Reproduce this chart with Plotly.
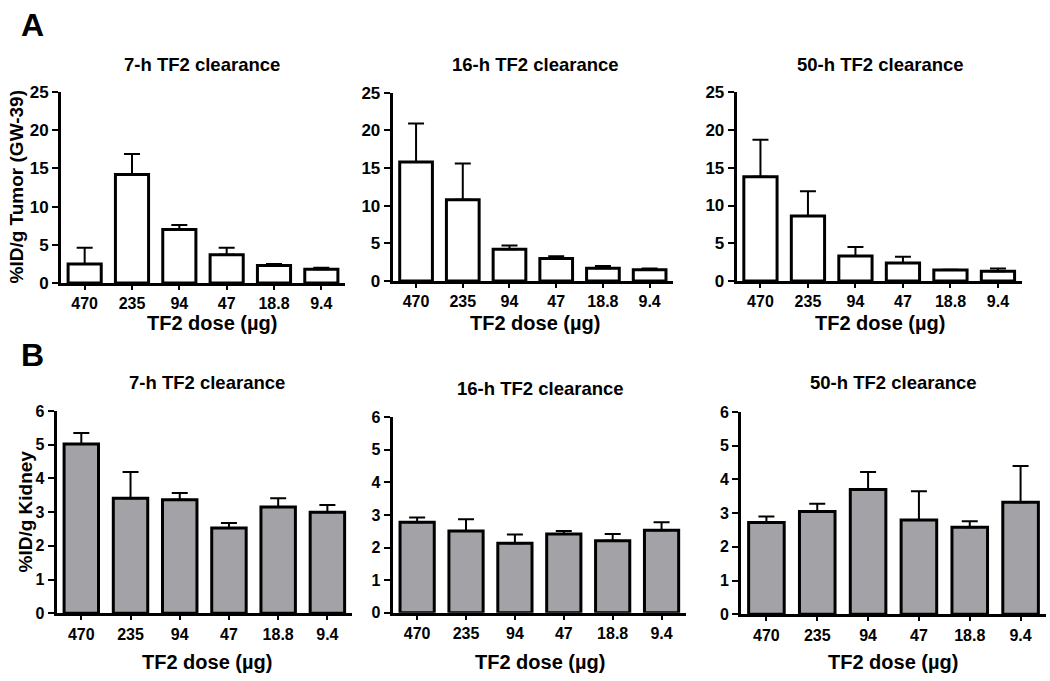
import plotly.graph_objects as go

W, H = 1050, 681

doses = ["470", "235", "94", "47", "18.8", "9.4"]

# Panel A: %ID/g tumor (GW-39)
tumor_7h = [2.5, 14.2, 7.0, 3.7, 2.3, 1.8]
tumor_7h_err = [2.1, 2.7, 0.6, 0.9, 0.2, 0.2]
tumor_16h = [15.8, 10.8, 4.2, 3.0, 1.7, 1.5]
tumor_16h_err = [5.1, 4.8, 0.5, 0.3, 0.3, 0.15]
tumor_50h = [13.8, 8.6, 3.3, 2.4, 1.45, 1.3]
tumor_50h_err = [4.9, 3.3, 1.2, 0.8, 0.05, 0.35]

# Panel B: %ID/g kidney
kidney_7h = [5.02, 3.41, 3.37, 2.53, 3.15, 3.0]
kidney_7h_err = [0.33, 0.78, 0.2, 0.15, 0.26, 0.21]
kidney_16h = [2.78, 2.51, 2.13, 2.42, 2.21, 2.53]
kidney_16h_err = [0.14, 0.36, 0.27, 0.09, 0.21, 0.25]
kidney_50h = [2.72, 3.05, 3.7, 2.8, 2.58, 3.32]
kidney_50h_err = [0.18, 0.23, 0.52, 0.85, 0.18, 1.08]

titles = ["7-h TF2 clearance", "16-h TF2 clearance", "50-h TF2 clearance"]

FONT = "Liberation Sans, Arial, sans-serif"

# panel geometry in pixels: (x0, x1, ytop, ybottom)
panels = [
    (61, 345, 92, 283),
    (392.7, 673, 92.7, 281),
    (736.7, 1021.7, 92.3, 281),
    (56.7, 352, 411, 613.3),
    (392.7, 686, 417.3, 612.7),
    (741, 1046, 412, 614.3),
]

series = [
    (tumor_7h, tumor_7h_err, "white", 25, 5),
    (tumor_16h, tumor_16h_err, "white", 25, 5),
    (tumor_50h, tumor_50h_err, "white", 25, 5),
    (kidney_7h, kidney_7h_err, "#a3a3a7", 6, 1),
    (kidney_16h, kidney_16h_err, "#a3a3a7", 6, 1),
    (kidney_50h, kidney_50h_err, "#a3a3a7", 6, 1),
]

fig = go.Figure()
layout = {}
for i, ((x0, x1, yt, yb), (vals, errs, fill, ymax, dtick)) in enumerate(zip(panels, series)):
    n = i + 1
    xa = "x" if n == 1 else f"x{n}"
    ya = "y" if n == 1 else f"y{n}"
    fig.add_trace(go.Bar(
        x=doses, y=vals, xaxis=xa, yaxis=ya, width=0.7,
        marker=dict(color=fill, line=dict(color="black", width=3)),
        error_y=dict(type="data", array=errs, arrayminus=[0] * len(errs),
                     symmetric=False, color="black", thickness=2, width=8),
        showlegend=False, hoverinfo="skip",
    ))
    ytickfont = dict(family=FONT, size=17 if i < 3 else 16, color="black", weight="bold")
    layout["xaxis" if n == 1 else f"xaxis{n}"] = dict(
        domain=[x0 / W, x1 / W], anchor=ya, type="category",
        range=[-0.5, 5.5], showline=True, linecolor="black", linewidth=3,
        ticks="outside", ticklen=4, tickwidth=2, tickcolor="black",
        showgrid=False, zeroline=False,
        tickfont=dict(family=FONT, size=16, color="black", weight="bold"),
        fixedrange=True,
    )
    layout["yaxis" if n == 1 else f"yaxis{n}"] = dict(
        domain=[1 - yb / H, 1 - yt / H], anchor=xa,
        range=[0, ymax], dtick=dtick, showline=True, linecolor="black", linewidth=3,
        ticks="outside", ticklen=6, tickwidth=2, tickcolor="black",
        showgrid=False, zeroline=False, tickfont=ytickfont, ticklabelstandoff=0,
        fixedrange=True,
    )

fig.update_layout(**layout)

ann = []
title_pos = [(202, 65), (535, 65), (880, 65), (207, 382), (540, 388), (893, 382)]
for i, (cx, cy) in enumerate(title_pos):
    ann.append(dict(text=titles[i % 3], x=cx / W, y=1 - cy / H, xref="paper", yref="paper",
                    showarrow=False, xanchor="center", yanchor="middle",
                    font=dict(family=FONT, size=18.5, color="black", weight="bold")))

xt_pos = [(212, 323), (535, 323), (880, 323), (207, 662), (540, 662), (893, 662)]
for (cx, cy) in xt_pos:
    ann.append(dict(text="TF2 dose (µg)", x=cx / W, y=1 - cy / H, xref="paper", yref="paper",
                    showarrow=False, xanchor="center", yanchor="middle",
                    font=dict(family=FONT, size=20, color="black", weight="bold")))

ann.append(dict(text="%ID/g Tumor (GW-39)", x=15.5 / W, y=1 - 187 / H, xref="paper", yref="paper",
                showarrow=False, textangle=-90, xanchor="center", yanchor="middle",
                font=dict(family=FONT, size=19, color="black", weight="bold")))
ann.append(dict(text="%ID/g Kidney", x=24.5 / W, y=1 - 512 / H, xref="paper", yref="paper",
                showarrow=False, textangle=-90, xanchor="center", yanchor="middle",
                font=dict(family=FONT, size=19, color="black", weight="bold")))

ann.append(dict(text="A", x=32 / W, y=1 - 25 / H, xref="paper", yref="paper",
                showarrow=False, xanchor="center", yanchor="middle",
                font=dict(family=FONT, size=32, color="black", weight="bold")))
ann.append(dict(text="B", x=32 / W, y=1 - 355 / H, xref="paper", yref="paper",
                showarrow=False, xanchor="center", yanchor="middle",
                font=dict(family=FONT, size=32, color="black", weight="bold")))

fig.update_layout(
    width=W, height=H, margin=dict(l=0, r=0, t=0, b=0, autoexpand=False),
    paper_bgcolor="white", plot_bgcolor="white", annotations=ann,
    bargap=0.3,
)

fig.write_html("out.html", config={"displayModeBar": False},
               post_script="document.body.style.margin='0';document.body.style.overflow='hidden';")
